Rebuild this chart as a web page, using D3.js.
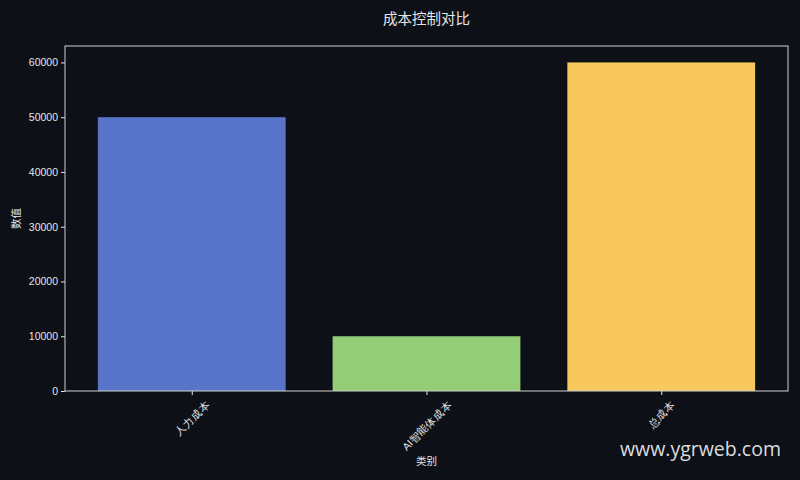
<!DOCTYPE html>
<html>
<head>
<meta charset="utf-8">
<script src="https://cdn.jsdelivr.net/npm/d3@7"></script>
<style>
  html, body { margin: 0; padding: 0; background: #0d1017; }
  svg { display: block; font-family: "Noto Sans CJK SC", "DejaVu Sans", sans-serif; }
</style>
</head>
<body>
<div id="chart"></div>
<script>
// chart data
var categories = ["人力成本", "AI智能体成本", "总成本"];
var values = [50000, 10000, 60000];
var barColors = ["#5874c8", "#93cd76", "#f9c85c"];
var yTicks = [0, 10000, 20000, 30000, 40000, 50000, 60000];

var width = 800, height = 480;
var margin = {top: 46, right: 12, bottom: 89, left: 65};
var textColor = "#e6e6e6";

var svg = d3.select("#chart").append("svg")
    .attr("width", width)
    .attr("height", height);

svg.append("rect")
    .attr("width", width)
    .attr("height", height)
    .style("fill", "#0d1017");

var plotW = width - margin.left - margin.right;
var plotH = height - margin.top - margin.bottom;

var g = svg.append("g")
    .attr("transform", "translate(" + margin.left + "," + margin.top + ")");

//linear x scale over category index, like matplotlib's margins
var x = d3.scaleLinear()
    .domain([-0.54, categories.length - 1 + 0.54])
    .range([0, plotW]);
var barWidth = x(0.8) - x(0);

var y = d3.scaleLinear()
    .domain([0, d3.max(values) * 1.05])
    .range([plotH, 0]);

//bars
g.selectAll("rect.bar")
    .data(values)
    .enter().append("rect")
    .attr("class", "bar")
    .attr("x", function(d, i){ return x(i) - barWidth / 2; })
    .attr("y", function(d){ return y(d); })
    .attr("width", barWidth)
    .attr("height", function(d){ return plotH - y(d); })
    .style("fill", function(d, i){ return barColors[i]; });

//y axis
var yAxis = g.append("g")
    .call(d3.axisLeft(y).tickValues(yTicks).tickSize(4).tickPadding(3).tickFormat(d3.format("d")));
yAxis.select(".domain").remove();
yAxis.selectAll("line").style("stroke", textColor);
yAxis.selectAll("text")
    .style("fill", textColor)
    .style("font-family", "'Liberation Sans', Arial, sans-serif")
    .style("font-size", "10.5px");

//x axis
var xAxis = g.append("g")
    .attr("transform", "translate(0," + plotH + ")")
    .call(d3.axisBottom(x)
        .tickValues(d3.range(categories.length))
        .tickSize(4)
        .tickFormat(function(d){ return categories[d]; }));
xAxis.select(".domain").remove();
xAxis.selectAll("line").style("stroke", textColor);

//rotated labels, box centred on the tick (matplotlib rotation=45)
var labelFont = 10.5;
xAxis.selectAll("text")
    .style("fill", textColor)
    .style("font-size", labelFont + "px")
    .style("text-anchor", "middle")
    .attr("x", 0)
    .attr("y", 0)
    .attr("dy", "0.35em")
    .attr("transform", function(){
        var len = this.getComputedTextLength();
        var boxH = (len + labelFont) * Math.SQRT1_2;
        return "translate(0," + (8 + boxH / 2) + ") rotate(-45)";
    });

//frame
g.append("rect")
    .attr("width", plotW)
    .attr("height", plotH)
    .style("fill", "none")
    .style("stroke", "#d0d0d0")
    .style("stroke-width", 1);

//axis labels
svg.append("text")
    .attr("x", margin.left + plotW / 2)
    .attr("y", 465)
    .style("text-anchor", "middle")
    .style("fill", textColor)
    .style("font-size", "10.5px")
    .text("类别");

svg.append("text")
    .attr("transform", "translate(20," + (margin.top + plotH / 2) + ") rotate(-90)")
    .style("text-anchor", "middle")
    .style("fill", textColor)
    .style("font-size", "10.5px")
    .text("数值");

//title
svg.append("text")
    .attr("x", margin.left + plotW / 2)
    .attr("y", 24)
    .style("text-anchor", "middle")
    .style("fill", textColor)
    .style("font-size", "14.5px")
    .text("成本控制对比");

//watermark
svg.append("text")
    .attr("x", 781)
    .attr("y", 456)
    .style("text-anchor", "end")
    .style("fill", "#dcdcdc")
    .style("font-family", "'Open Sans', sans-serif")
    .style("font-size", "19.5px")
    .text("www.ygrweb.com");
</script>
</body>
</html>
